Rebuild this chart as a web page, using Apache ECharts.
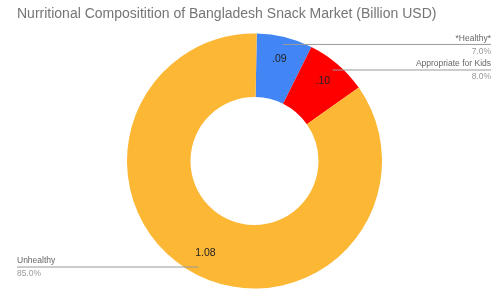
<!DOCTYPE html>
<html>
<head>
<meta charset="utf-8">
<script src="https://cdn.jsdelivr.net/npm/echarts@6/dist/echarts.min.js"></script>
<style>html,body{margin:0;padding:0;background:#fff}#c{width:500px;height:294px}</style>
</head>
<body>
<div id="c"></div>
<script>
var titleText = 'Nurritional Compositition of Bangladesh Snack Market (Billion USD)';
var categories = ['*Healthy*', 'Appropriate for Kids', 'Unhealthy'];
var values = [0.09, 0.10, 1.08];
var valueLabels = ['.09', '.10', '1.08'];
var pctLabels = ['7.0%', '8.0%', '85.0%'];
var colors = ['#4285F4', '#FF0000', '#FCB735'];

var chart = echarts.init(document.getElementById('c'), null, {renderer: 'canvas'});
var W = 500;
var center = [254.5, 161];
var startAngle = 89;

function mk(transparent) {
  return categories.map(function (n, i) {
    return {
      name: n, value: values[i],
      itemStyle: {color: transparent ? 'rgba(0,0,0,0)' : colors[i]}
    };
  });
}

chart.setOption({
  animation: false,
  title: {
    text: titleText, left: 12, top: 2,
    textStyle: {fontFamily: 'Liberation Sans', fontSize: 14, fontWeight: 'normal', color: '#757575'}
  },
  series: [
    {
      type: 'pie', center: center, radius: [64, 127.5], startAngle: startAngle,
      clockwise: true, silent: true, label: {show: false}, labelLine: {show: false},
      itemStyle: {borderWidth: 0}, data: mk(false)
    },
    {
      type: 'pie', center: center, radius: [76, 127.5], startAngle: startAngle,
      clockwise: true, silent: true, z: 3,
      label: {
        show: true, position: 'inside', fontFamily: 'Liberation Sans', fontSize: 10.5, color: '#222',
        formatter: function (p) { return valueLabels[p.dataIndex]; }
      },
      labelLine: {show: false}, data: mk(true)
    },
    {
      type: 'pie', center: center, radius: [0, 120], startAngle: startAngle,
      clockwise: true, silent: true, z: 4,
      label: {
        show: true, position: 'outside', fontFamily: 'Liberation Sans',
        formatter: function (p) { return '{n|' + p.name + '}\n{p|' + pctLabels[p.dataIndex] + '}'; },
        rich: {
          n: {fontFamily: 'Liberation Sans', fontSize: 8.5, color: '#666', lineHeight: 13},
          p: {fontFamily: 'Liberation Sans', fontSize: 8.5, color: '#999', lineHeight: 13}
        }
      },
      labelLine: {show: true, length: 5, length2: 5, lineStyle: {color: '#999', width: 1}},
      labelLayout: function (params) {
        var p0 = params.labelLinePoints[0];
        var right = p0[0] > center[0];
        var ex = right ? W - 9 : 17;
        return {
          x: ex, y: p0[1] + 0.5, align: right ? 'right' : 'left', verticalAlign: 'middle',
          labelLinePoints: [[p0[0], p0[1]], [p0[0], p0[1]], [ex, p0[1]]]
        };
      },
      data: mk(true)
    }
  ]
});
</script>
</body>
</html>
